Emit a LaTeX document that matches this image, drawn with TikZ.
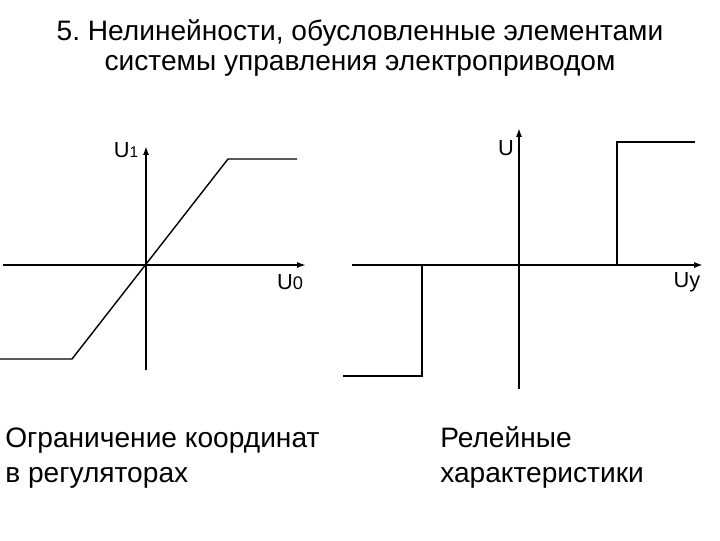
\documentclass[tikz,border=0pt]{standalone}
\usepackage{fontspec}
\setmainfont{Liberation Sans}
\usetikzlibrary{arrows.meta}

\begin{document}
\begin{tikzpicture}[x=0.025cm,y=-0.025cm,
  axis/.style={line width=1.4pt,-{Latex[length=2.2mm,width=1.5mm]}},
  curve/.style={line width=1pt,line join=miter},
  lbl/.style={font=\fontsize{15.5}{18}\selectfont,inner sep=0pt},
  heading/.style={font=\fontsize{20}{24}\selectfont,inner sep=0pt,anchor=base},
  caption/.style={font=\fontsize{20}{24}\selectfont,inner sep=0pt,anchor=base west}
]
  \useasboundingbox (0,0) rectangle (720,540);
  % title
  \node[heading] (title1) at (360,40) {5.\ Нелинейности, обусловленные элементами};
  \node[heading] (title2) at (360,70) {системы управления электроприводом};
  % left: limiting
  \coordinate (lx0) at (3,265);   \coordinate (lx1) at (306,265);
  \coordinate (ly0) at (146,370); \coordinate (ly1) at (146,146);
  \draw[axis] (lx0) -- (lx1);
  \draw[axis] (ly0) -- (ly1);
  \draw[curve] (0,359) -- (72,359) -- (228,159) -- (297,159);
  \node[lbl] (u1) at (126,150) {U{\fontsize{11}{13}\selectfont 1}};
  \node[lbl] (u0) at (290,282) {U{\fontsize{13}{15}\selectfont 0}};
  % right: relay
  \coordinate (rx0) at (352,265); \coordinate (rx1) at (703,265);
  \coordinate (ry0) at (519,389); \coordinate (ry1) at (519,128);
  \draw[axis] (rx0) -- (rx1);
  \draw[axis] (ry0) -- (ry1);
  \draw[curve] (343,376) -- (422,376) -- (422,265);
  \draw[curve] (617,265) -- (617,142) -- (695,142);
  \node[lbl] (u) at (506,148) {U};
  \node[lbl] (uy) at (687,282) {Uy};
  % captions
  \node[caption] (cap1) at (5,447) {Ограничение координат};
  \node[caption] (cap2) at (5,482) {в регуляторах};
  \node[caption] (cap3) at (440,447) {Релейные};
  \node[caption] (cap4) at (440,482) {характеристики};
\end{tikzpicture}
\end{document}
